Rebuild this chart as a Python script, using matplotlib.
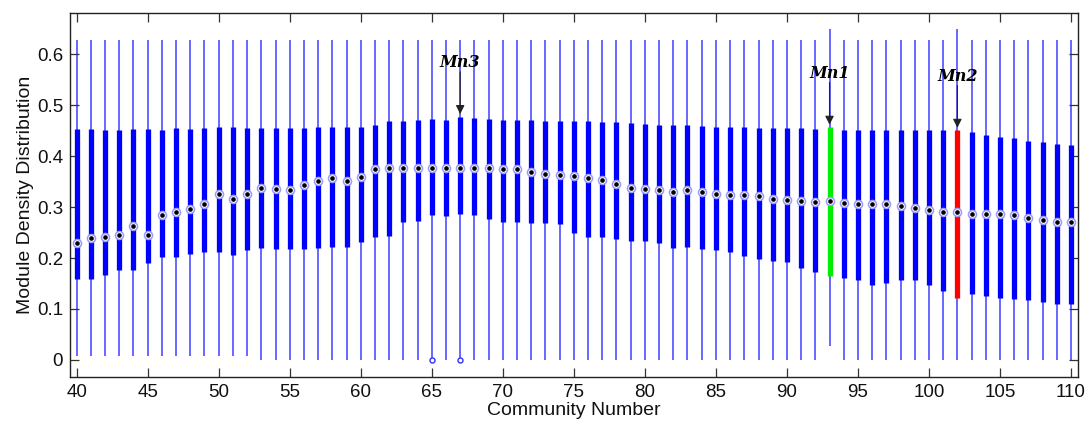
import numpy as np
import matplotlib
matplotlib.use("Agg")
import matplotlib.pyplot as plt
from matplotlib.ticker import FormatStrFormatter

community = list(range(40, 111))

q3 = [0.453, 0.453, 0.451, 0.451, 0.453, 0.453, 0.451, 0.455, 0.453, 0.455,
      0.457, 0.457, 0.455, 0.455, 0.455, 0.455, 0.455, 0.457, 0.457, 0.457,
      0.458, 0.462, 0.469, 0.469, 0.471, 0.474, 0.471, 0.478, 0.476, 0.474,
      0.471, 0.471, 0.471, 0.469, 0.469, 0.469, 0.469, 0.467, 0.467, 0.465,
      0.464, 0.462, 0.462, 0.461, 0.459, 0.457, 0.457, 0.457, 0.455, 0.455,
      0.455, 0.455, 0.453, 0.457, 0.451, 0.451, 0.451, 0.451, 0.451, 0.451,
      0.451, 0.451, 0.451, 0.447, 0.442, 0.438, 0.435, 0.431, 0.429, 0.425,
      0.423]

q1 = [0.158, 0.158, 0.166, 0.177, 0.177, 0.190, 0.203, 0.203, 0.209, 0.211,
      0.211, 0.207, 0.215, 0.220, 0.218, 0.218, 0.218, 0.220, 0.222, 0.222,
      0.231, 0.242, 0.244, 0.270, 0.273, 0.285, 0.283, 0.287, 0.285, 0.276,
      0.270, 0.270, 0.268, 0.268, 0.266, 0.250, 0.242, 0.242, 0.238, 0.234,
      0.234, 0.230, 0.220, 0.222, 0.218, 0.216, 0.211, 0.205, 0.198, 0.194,
      0.192, 0.181, 0.172, 0.164, 0.160, 0.157, 0.147, 0.151, 0.157, 0.157,
      0.147, 0.136, 0.122, 0.129, 0.125, 0.122, 0.120, 0.118, 0.114, 0.109,
      0.109]

med = [0.230, 0.239, 0.241, 0.245, 0.264, 0.245, 0.285, 0.290, 0.296, 0.306,
       0.325, 0.317, 0.325, 0.338, 0.336, 0.333, 0.344, 0.351, 0.358, 0.351,
       0.360, 0.376, 0.377, 0.377, 0.377, 0.377, 0.377, 0.377, 0.377, 0.377,
       0.376, 0.376, 0.370, 0.366, 0.363, 0.361, 0.358, 0.353, 0.345, 0.338,
       0.336, 0.334, 0.329, 0.334, 0.329, 0.326, 0.324, 0.323, 0.321, 0.317,
       0.314, 0.312, 0.310, 0.312, 0.308, 0.306, 0.306, 0.306, 0.303, 0.299,
       0.295, 0.290, 0.290, 0.287, 0.287, 0.287, 0.285, 0.279, 0.275, 0.271,
       0.271]

whisk_hi = [0.651 if c in (93, 102) else 0.629 for c in community]
whisk_lo = [0.007] * 13 + [0.0] * 40 + [0.028] + [0.0] * 17

outlier_x = [65, 67]
outlier_y = [0.0, 0.0]

highlights = {93: ("Mn1", "#00ee00"), 102: ("Mn2", "#ff0000")}
annot = [("Mn3", 67, 0.478), ("Mn1", 93, 0.457), ("Mn2", 102, 0.451)]

plt.rcParams['font.family'] = ['Liberation Sans', 'DejaVu Sans']

fig = plt.figure(figsize=(10.88, 4.25), dpi=100)
ax = fig.add_axes([0.0643, 0.1137, 0.9265, 0.8563])

box_colors = [highlights[c][1] if c in highlights else "#0000ff" for c in community]

ax.vlines(community, whisk_lo, whisk_hi, colors="#4646ff", linewidth=1.15, zorder=1)
ax.vlines(community, q1, q3, colors=box_colors, linewidth=3.8, zorder=2)
ax.plot(community, med, linestyle="none", marker="o", markersize=5.8,
        markerfacecolor="white", markeredgecolor="#9a9aff", markeredgewidth=1.1, zorder=3)
ax.plot(community, med, linestyle="none", marker="o", markersize=2.3,
        markerfacecolor="black", markeredgecolor="black", zorder=4)
ax.plot(outlier_x, outlier_y, linestyle="none", marker="o", markersize=3.6,
        markerfacecolor="white", markeredgecolor="#3030ff", markeredgewidth=1.0, zorder=3)

for label, x, y in annot:
    ax.annotate("", xy=(x, y + 0.005), xytext=(x, y + 0.088),
                arrowprops=dict(arrowstyle="-|>", color="#222222", lw=0.8,
                                mutation_scale=13, shrinkA=0, shrinkB=0), zorder=5)
    ax.text(x, y + 0.106, label, ha="center", va="center", fontsize=11.5,
            fontstyle="italic", fontweight="bold", family=["DejaVu Serif"],
            zorder=6)

ax.set_xlim(39.53, 110.49)
ax.set_ylim(-0.033, 0.682)
ax.set_xticks(range(40, 111, 5))
ax.set_yticks(np.arange(0, 0.61, 0.1))
ax.yaxis.set_major_formatter(FormatStrFormatter('%g'))
ax.tick_params(direction="in", length=6.5, width=0.9, top=True, right=True,
               labelsize=13.5, colors="#333333", labelcolor="#111111", pad=5)
for s in ax.spines.values():
    s.set_linewidth(1.0)
    s.set_color("#222222")

ax.set_xlabel("Community Number", fontsize=14, labelpad=1, color="#111111")
ax.set_ylabel("Module Density Distribution", fontsize=14, labelpad=2, color="#111111")

fig.savefig("out.png", dpi=100)
